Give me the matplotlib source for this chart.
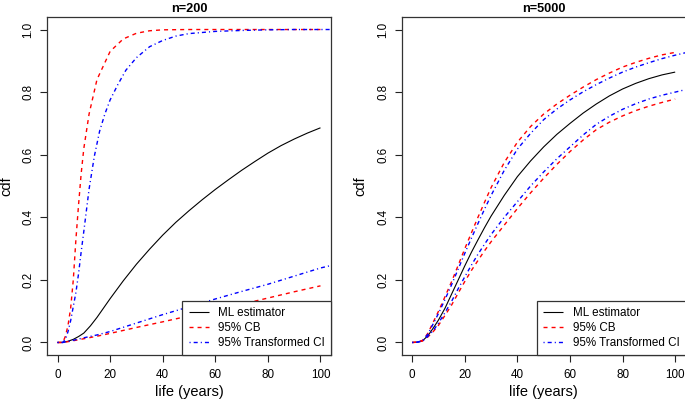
import matplotlib
matplotlib.use("Agg")
import matplotlib.pyplot as plt

plt.rcParams['font.family'] = ['Liberation Sans', 'DejaVu Sans']

# ---------------- data: n=200 (left) ----------------
t_ml_l = [0, 2, 4, 6, 8, 10, 12.5, 15, 17.5, 20, 25, 30, 35, 40, 45, 50, 55, 60, 65, 70, 75, 80, 85, 90, 95, 100]
ml_l = [0, 0.0005, 0.004, 0.01, 0.019, 0.03, 0.053, 0.08, 0.11, 0.14, 0.197, 0.25, 0.298, 0.343, 0.384,
        0.421, 0.456, 0.489, 0.52, 0.55, 0.578, 0.605, 0.629, 0.65, 0.669, 0.686]

t_cbu_l = [0, 2, 3, 4, 5, 6, 7, 8, 9, 10, 12, 15, 20, 25, 30, 35, 40, 50, 60, 80, 100]
cbu_l = [0, 0.0, 0.02, 0.055, 0.11, 0.2, 0.33, 0.44, 0.54, 0.62, 0.73, 0.84, 0.93, 0.97, 0.988, 0.996, 0.999, 1.0, 1.0, 1.0, 1.0]

t_cbl_l = [0, 2, 5, 10, 15, 20, 30, 40, 50, 60, 70, 80, 90, 100]
cbl_l = [0, 0, 0.004, 0.012, 0.02, 0.029, 0.048, 0.066, 0.085, 0.104, 0.122, 0.142, 0.162, 0.181]

t_tcu_l = [0, 2, 3, 4, 5, 6, 7, 8, 9, 10, 12, 14, 16, 18, 20, 23, 26, 30, 35, 40, 45, 50, 60, 70, 80, 90, 100, 105]
tcu_l = [0, 0, 0.01, 0.035, 0.07, 0.115, 0.16, 0.22, 0.29, 0.355, 0.49, 0.595, 0.675, 0.73, 0.775, 0.825, 0.87, 0.91,
         0.945, 0.965, 0.979, 0.987, 0.994, 0.997, 0.999, 1.0, 1.0, 1.0]

t_tcl_l = [0, 2, 5, 10, 15, 20, 30, 40, 50, 60, 70, 80, 90, 100, 105]
tcl_l = [0, 0, 0.005, 0.015, 0.024, 0.035, 0.062, 0.089, 0.114, 0.139, 0.163, 0.186, 0.212, 0.238, 0.248]

# ---------------- data: n=5000 (right) ----------------
t_r = [0, 2, 4, 6, 8, 10, 12.5, 15, 17.5, 20, 22.5, 25, 27.5, 30, 35, 40, 45, 50, 55, 60, 65, 70, 75, 80, 85, 90, 95, 100]
ml_r = [0, 0.001, 0.006, 0.022, 0.046, 0.072, 0.11, 0.155, 0.2, 0.245, 0.288, 0.328, 0.367, 0.404,
        0.47, 0.53, 0.58, 0.625, 0.665, 0.70, 0.733, 0.762, 0.788, 0.81, 0.828, 0.843, 0.855, 0.864]
cbu_r = [0, 0.001, 0.007, 0.03, 0.065, 0.10, 0.147, 0.195, 0.247, 0.30, 0.35, 0.40, 0.448, 0.495,
         0.575, 0.64, 0.69, 0.73, 0.762, 0.79, 0.816, 0.84, 0.861, 0.88, 0.895, 0.908, 0.919, 0.927]
cbl_r = [0, 0.001, 0.005, 0.018, 0.035, 0.055, 0.087, 0.12, 0.158, 0.195, 0.23, 0.262, 0.293, 0.322,
         0.375, 0.428, 0.478, 0.525, 0.569, 0.61, 0.647, 0.68, 0.704, 0.724, 0.741, 0.755, 0.767, 0.778]

t_r_ext = t_r + [105]
tcu_r = [0, 0.001, 0.006, 0.027, 0.06, 0.093, 0.138, 0.185, 0.235, 0.285, 0.333, 0.38, 0.426, 0.47,
         0.55, 0.618, 0.668, 0.712, 0.746, 0.775, 0.801, 0.824, 0.845, 0.864, 0.88, 0.894, 0.907, 0.918, 0.928]
tcl_r = [0, 0.001, 0.005, 0.02, 0.038, 0.062, 0.096, 0.132, 0.172, 0.21, 0.247, 0.282, 0.314, 0.345,
         0.40, 0.45, 0.50, 0.545, 0.587, 0.625, 0.663, 0.697, 0.723, 0.745, 0.763, 0.778, 0.79, 0.80, 0.81]

titles = ["n=200", "n=5000"]
legend_labels = ["ML estimator", "95% CB", "95% Transformed CI"]
xticks = [0, 20, 40, 60, 80, 100]
yticks = [0.0, 0.2, 0.4, 0.6, 0.8, 1.0]

W, H = 685, 404
fig = plt.figure(figsize=(W / 100, H / 100), dpi=100)

def px_axes(x0, y0, x1, y1):
    return fig.add_axes([x0 / W, 1 - y1 / H, (x1 - x0) / W, (y1 - y0) / H])

ax_l = px_axes(47, 17, 331, 355)
ax_r = px_axes(401.7, 17, 685.7, 355)

lw = 1.0
dash = (0, (2.9, 2.9))
dotdash = (0, (0.8, 2.2, 2.9, 2.2))

panels = [
    (ax_l, titles[0], (t_ml_l, ml_l), (t_cbu_l, cbu_l), (t_cbl_l, cbl_l), (t_tcu_l, tcu_l), (t_tcl_l, tcl_l)),
    (ax_r, titles[1], (t_r, ml_r), (t_r, cbu_r), (t_r, cbl_r), (t_r_ext, tcu_r), (t_r_ext, tcl_r)),
]

for ax, title, ml, cbu, cbl, tcu, tcl in panels:
    h1, = ax.plot(*ml, color='black', lw=lw * 0.8, solid_capstyle='butt')
    h2, = ax.plot(*cbu, color='#FF0000', lw=lw, linestyle=dash)
    ax.plot(*cbl, color='#FF0000', lw=lw, linestyle=dash)
    h3, = ax.plot(*tcu, color='#0000FF', lw=lw, linestyle=dotdash)
    ax.plot(*tcl, color='#0000FF', lw=lw, linestyle=dotdash)

    ax.set_xlim(-4, 104)
    ax.set_ylim(-0.04, 1.04)
    ax.set_xticks(xticks)
    ax.set_xticklabels([str(v) for v in xticks])
    ax.set_yticks(yticks)
    ax.set_yticklabels(["%.1f" % v for v in yticks], rotation=90, va='center')
    ax.tick_params(direction='out', length=5.3, width=0.8, labelsize=8.4, pad=3.6, color='#222222')
    ax.tick_params(axis='x', pad=5)
    for s in ax.spines.values():
        s.set_linewidth(0.9)
        s.set_color('#333333')
    ax.set_xlabel("life (years)", fontsize=10.5, labelpad=3)
    ax.set_ylabel("cdf", fontsize=10.5, labelpad=7)
    ax.set_title(title, fontsize=9.2, fontweight='bold', pad=3.5)

    leg = ax.legend([h1, h2, h3], legend_labels, loc='lower right', borderaxespad=0,
                    fancybox=False, framealpha=1, edgecolor='#333333', fontsize=8.4,
                    handlelength=1.7, handletextpad=0.8, labelspacing=0.22,
                    borderpad=0.55)
    leg.get_frame().set_linewidth(0.9)

fig.savefig("out.png", dpi=100)
